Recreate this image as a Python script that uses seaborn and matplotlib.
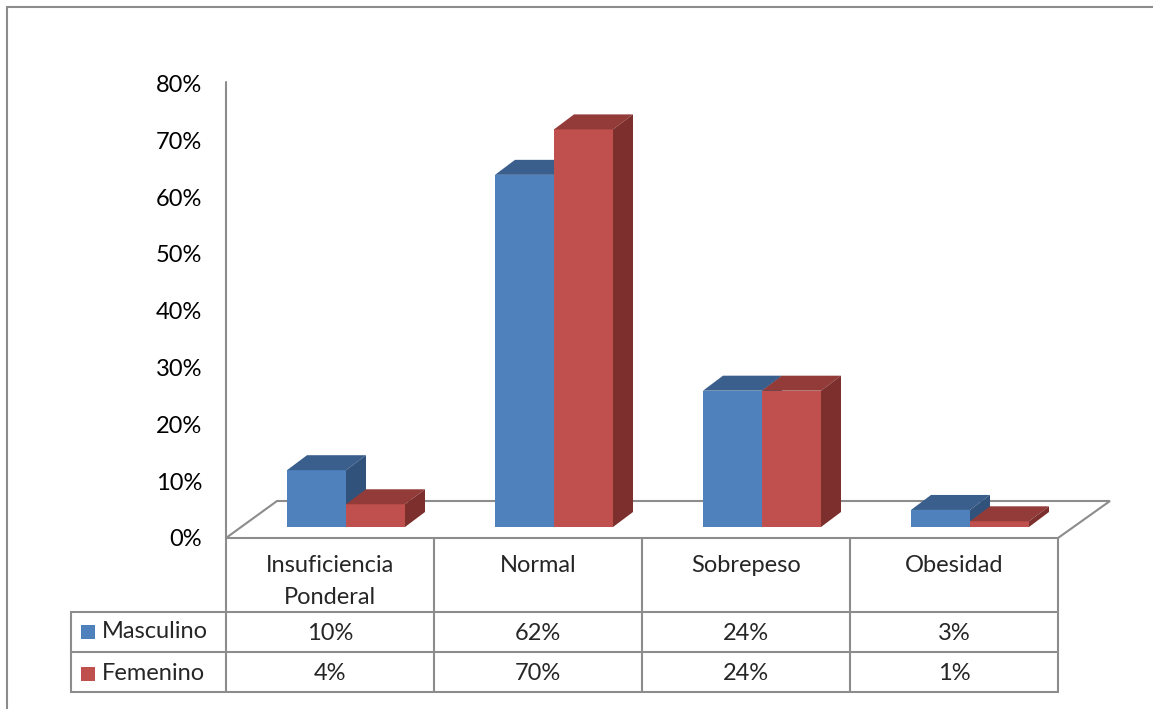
import matplotlib
matplotlib.use("Agg")
import matplotlib.pyplot as plt
from matplotlib.patches import Polygon, Rectangle
from matplotlib.lines import Line2D
import seaborn as sns
import pandas as pd

# Data
categories = ["Insuficiencia\nPonderal", "Normal", "Sobrepeso", "Obesidad"]
series = ["Masculino", "Femenino"]
masculino = [0.10, 0.62, 0.24, 0.03]
femenino = [0.04, 0.70, 0.24, 0.01]
masculino_labels = ["10%", "62%", "24%", "3%"]
femenino_labels = ["4%", "70%", "24%", "1%"]
y_ticks = [0.0, 0.1, 0.2, 0.3, 0.4, 0.5, 0.6, 0.7, 0.8]

front = {"Masculino": "#4F81BD", "Femenino": "#C0504D"}
top = {"Masculino": "#3A5F8D", "Femenino": "#933B38"}
side = {"Masculino": "#31527B", "Femenino": "#7C2F2D"}
line_c = "#8C8C8C"

sns.set_style("white")
plt.rcParams["font.family"] = ["Lato", "DejaVu Sans"]
FS = 17

W, H = 1153, 709
fig = plt.figure(figsize=(W / 100, H / 100), dpi=100)

# Canvas geometry (pixels): category spacing and value scale
CAT_PX = 208.0
X0_PX = 242.0          # left edge of the x range (-0.5)
BASE_PX = 527.0        # front bottom of the bars
UNIT_PX = 568.0        # pixels per 100 %

ax = fig.add_axes([X0_PX / W, (H - BASE_PX) / H,
                   4 * CAT_PX / W, 0.8 * UNIT_PX / H])


def dx(px):
    return (px - X0_PX) / CAT_PX - 0.5


def dy(py):
    return (BASE_PX - py) / UNIT_PX


df = pd.DataFrame({
    "cat": categories * 2,
    "val": masculino + femenino,
    "serie": [series[0]] * 4 + [series[1]] * 4,
})

sns.barplot(data=df, x="cat", y="val", hue="serie", hue_order=series,
            palette=[front[s] for s in series], width=118 / CAT_PX,
            saturation=1, dodge=True, legend=False, ax=ax, errorbar=None)
ax.set_xlim(-0.5, 3.5)
ax.set_ylim(0, 0.8)
ax.axis("off")

bars = [p for p in ax.patches if isinstance(p, Rectangle)]

# Floor of the 3D plot
ax.add_patch(Polygon([(dx(226), dy(538)), (dx(277), dy(501)), (dx(1110), dy(501)),
                      (dx(1058), dy(538))], closed=True, facecolor="white",
                     edgecolor=line_c, lw=1.5, zorder=0.5, clip_on=False))

# Depth faces of each bar
DDX = 20 / CAT_PX
DDY = 15 / UNIT_PX
for i, p in enumerate(bars):
    s = series[0] if i < 4 else series[1]
    z = 2 if s == series[0] else 3
    p.set_zorder(z)
    p.set_edgecolor("none")
    x0, w, h = p.get_x(), p.get_width(), p.get_height()
    x1 = x0 + w
    ax.add_patch(Polygon([(x0, h), (x1, h), (x1 + DDX, h + DDY), (x0 + DDX, h + DDY)],
                         closed=True, facecolor=top[s], edgecolor="none",
                         zorder=z + 0.1, clip_on=False))
    ax.add_patch(Polygon([(x1, 0), (x1, h), (x1 + DDX, h + DDY), (x1 + DDX, DDY)],
                         closed=True, facecolor=side[s], edgecolor="none",
                         zorder=z + 0.1, clip_on=False))

# Value axis
ax.add_line(Line2D([dx(226), dx(226)], [dy(538), dy(82)], color=line_c,
                   lw=1.5, clip_on=False, zorder=1))
for v in y_ticks:
    ax.text(dx(202), dy(540 - v * UNIT_PX), f"{v:.0%}", ha="right",
            va="center", fontsize=FS, color="black", clip_on=False)

# Data table
col_x = [226, 434, 642, 850, 1058]
for x in col_x:
    ax.add_line(Line2D([dx(x), dx(x)], [dy(538), dy(692)], color=line_c,
                       lw=1.5, clip_on=False))
ax.add_line(Line2D([dx(71), dx(71)], [dy(612), dy(692)], color=line_c,
                   lw=1.5, clip_on=False))
for y in [612, 652, 692]:
    ax.add_line(Line2D([dx(71), dx(1058)], [dy(y), dy(y)], color=line_c,
                       lw=1.5, clip_on=False))

for i, c in enumerate(categories):
    cx = dx((col_x[i] + col_x[i + 1]) / 2)
    for k, part in enumerate(c.split("\n")):
        ax.text(cx, dy(566 + 32 * k), part, ha="center", va="center",
                fontsize=FS, clip_on=False)
    ax.text(cx, dy(633), masculino_labels[i], ha="center", va="center",
            fontsize=FS, clip_on=False)
    ax.text(cx, dy(674), femenino_labels[i], ha="center", va="center",
            fontsize=FS, clip_on=False)

for s, yc in [(series[0], 632), (series[1], 674)]:
    ax.add_patch(Rectangle((dx(81), dy(yc + 7)), 14 / CAT_PX, 14 / UNIT_PX,
                           facecolor=front[s], edgecolor="none", clip_on=False))
    ax.text(dx(102), dy(yc), s, ha="left", va="center", fontsize=FS,
            clip_on=False)

# Outer frame
fig.add_artist(Line2D([6.5 / W, 6.5 / W], [0, 1 - 7 / H], color=line_c,
                      lw=1.5, transform=fig.transFigure))
fig.add_artist(Line2D([6.5 / W, 1], [1 - 7 / H, 1 - 7 / H], color=line_c,
                      lw=1.5, transform=fig.transFigure))

fig.savefig("out.png", dpi=100, facecolor="white")
